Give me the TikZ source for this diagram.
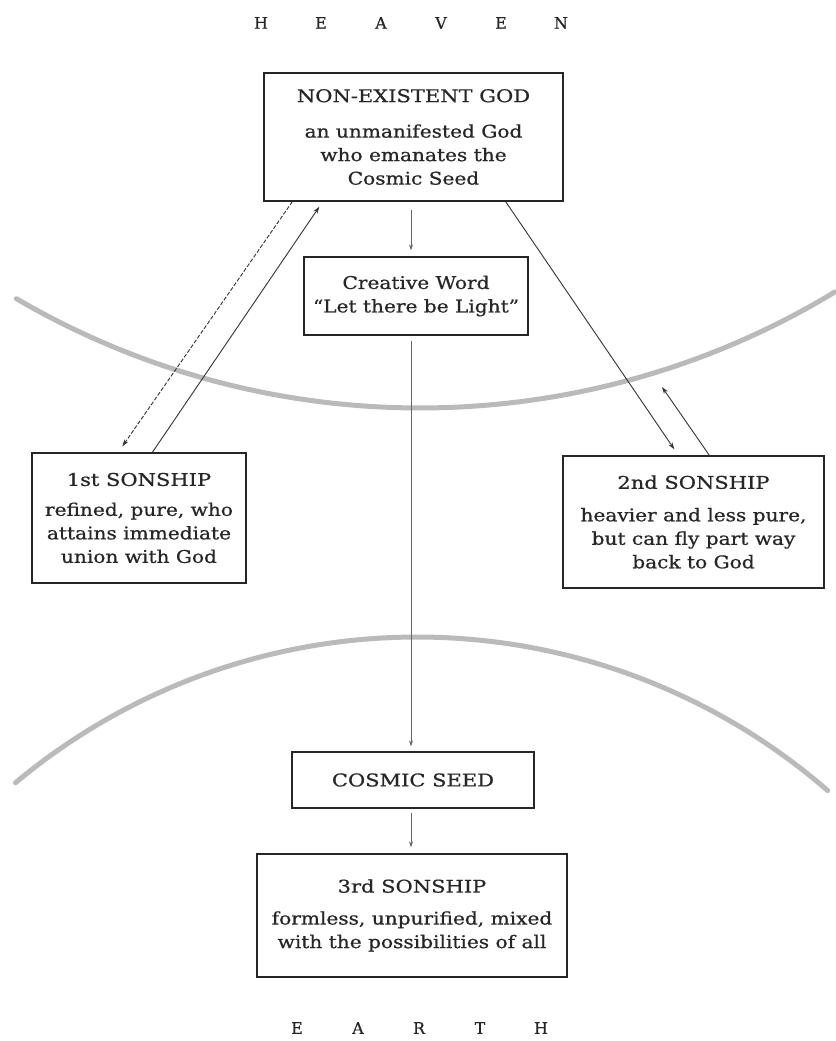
\documentclass[tikz,border=0pt]{standalone}
\usepackage{fontspec}
\usetikzlibrary{arrows.meta}
\newfontfamily\boxfont{DejaVu Serif}[FakeStretch=1.15,FakeBold=0.7]
\newfontfamily\headfont{DejaVu Serif}[FakeStretch=1.2,FakeBold=0.7]
\newfontfamily\polefont{DejaVu Serif}[FakeBold=0.5]

\begin{document}
\begin{tikzpicture}[x=1pt,y=-1pt,
  box/.style={draw=black!85, line width=1.3pt, rectangle, inner sep=0pt, align=center,
    font=\boxfont\fontsize{17.5}{23.5}\selectfont, text=black!85},
  link/.style={draw=black!80, line width=0.9pt, -{Stealth[length=7pt,width=4.5pt]}},
  axis/.style={draw=black!60, line width=0.7pt, -{Stealth[length=6pt,width=4pt]}},
  zone/.style={draw=black!27, line width=5pt, line cap=round},
  pole/.style={font=\polefont\fontsize{16}{16}\selectfont, text=black!85, inner sep=0pt}]

\useasboundingbox (0,0) rectangle (835,1041);
\fill[white] (0,0) rectangle (835,1041);

% the two spheres
\draw[zone] plot[domain=120.3:58.75, samples=90, smooth] ({420+800*cos(\x)},{-392+800*sin(\x)});
\draw[zone] plot[domain=230.1:311, samples=90, smooth] ({417+626*cos(\x)},{1263+626*sin(\x)});

% poles
\node[pole] (heaven) at (411,23) {\makebox[60pt]{H}\makebox[60pt]{E}\makebox[60pt]{A}\makebox[60pt]{V}\makebox[60pt]{E}\makebox[60pt]{N}};
\node[pole] (earth) at (419,1028) {\makebox[61pt]{E}\makebox[61pt]{A}\makebox[61pt]{R}\makebox[61pt]{T}\makebox[61pt]{H}};

% boxes
\node[box, minimum width=299pt, minimum height=128pt] (god) at (413.5,137)
  {{\headfont NON-EXISTENT GOD}\\[12pt]an unmanifested God\\who emanates the\\Cosmic Seed};
\node[box, minimum width=224pt, minimum height=78pt] (word) at (416,296)
  {Creative Word\\“Let there be Light”};
\node[box, minimum width=214pt, minimum height=130pt] (first) at (139,518)
  {{\headfont 1st SONSHIP}\\[6.5pt]refined, pure, who\\attains immediate\\union with God};
\node[box, minimum width=261pt, minimum height=132pt] (second) at (693.5,522)
  {{\headfont 2nd SONSHIP}\\[9pt]heavier and less pure,\\but can fly part way\\back to God};
\node[box, minimum width=242pt, minimum height=56pt] (seed) at (413,780)
  {\headfont COSMIC SEED};
\node[box, minimum width=310pt, minimum height=123pt] (third) at (412,915.5)
  {{\headfont 3rd SONSHIP}\\[8.5pt]formless, unpurified, mixed\\with the possibilities of all};

\coordinate (back) at (662,387);

% connectors
\draw[link, dash pattern=on 4pt off 1.8pt] ([xshift=29pt]god.south west) -- ([xshift=91pt,yshift=6pt]first.north west);
\draw[link] ([xshift=121pt]first.north west) -- ([xshift=56pt,yshift=-5pt]god.south west);
\draw[axis] ([xshift=-2.5pt,yshift=-8pt]god.south) -- ([xshift=-5pt,yshift=6pt]word.north);
\draw[axis] ([xshift=-5pt,yshift=-5pt]word.south) -- ([xshift=-2pt,yshift=5pt]seed.north);
\draw[axis] ([xshift=-2pt,yshift=-4pt]seed.south) -- ([xshift=-1pt,yshift=6pt]third.north);
\draw[link] ([xshift=-58pt]god.south east) -- ([xshift=112pt,yshift=6pt]second.north west);
\draw[link] ([xshift=147pt]second.north west) -- (back);
\end{tikzpicture}
\end{document}
